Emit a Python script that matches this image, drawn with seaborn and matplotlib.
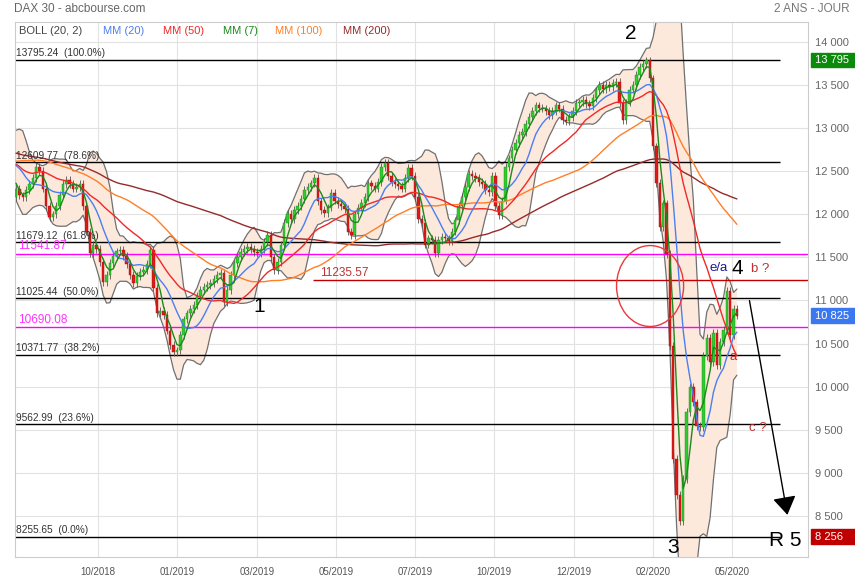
import numpy as np
import pandas as pd
import matplotlib.pyplot as plt
import seaborn as sns
from matplotlib.patches import Ellipse, Rectangle

sns.set_theme(style="white")
plt.rcParams["font.family"] = ["Liberation Sans", "DejaVu Sans"]

# closes, one value every 2 sessions, Nov 2017 -> Aug 2018 (only feeds the averages)
pre_closes = [
    13450, 13380, 13300, 13180, 13050, 13000, 13050, 13030, 13060, 13000, 13020,
    12880, 13050, 13120, 13180, 13100, 13120, 13100, 13070, 13000, 12920,
    12980, 13200, 13280, 13250, 13400, 13430, 13470, 13550, 13340, 13300, 13190,
    12800, 12390, 12260, 12110, 12340, 12400, 12460, 12480, 12490, 12420,
    12000, 12090, 12250, 12300, 12340, 12290, 12220, 12100, 11880, 11970, 12100,
    11990, 12240, 12270, 12380, 12440, 12540, 12570, 12420, 12500, 12610,
    12800, 12830, 12950, 12980, 12970, 13080, 13170, 13000, 12860, 12660, 12600,
    12720, 12780, 12830, 12900, 13110, 12850, 12730, 12580, 12280, 12350, 12310,
    12350, 12480, 12540, 12600, 12580, 12560, 12690, 12580, 12680, 12860, 12810,
    12700, 12620, 12550, 12400, 12200,
]

# closes, one value every 2 sessions, Aug 2018 -> May 2020 (drawn)
closes = [
    12300, 12220, 12200, 12280, 12350, 12420, 12550, 12500, 12300, 12100,
    11970, 12000, 12100, 12230, 12350, 12400, 12350, 12300, 12320, 12350,
    12100, 11800, 11550, 11650, 11600, 11450, 11215, 11300, 11435, 11520,
    11570, 11590, 11520, 11420, 11300, 11200, 11280, 11330, 11350, 11420,
    11590, 11150, 10850, 10880, 10830, 10650, 10480, 10400, 10420, 10600,
    10780, 10850, 10900, 10950, 11050, 11120, 11160, 11180, 11200, 11250,
    11300, 11320, 10980, 11120, 11300, 11430, 11500, 11560, 11600, 11620,
    11600, 11560, 11550, 11600, 11680, 11760, 11500, 11350, 11450, 11650,
    11900, 12010, 11950, 12050, 12100, 12180, 12280, 12320, 12360, 12420,
    12150, 12050, 12020, 12080, 12250, 12160, 12120, 12100, 12060, 11800,
    11760, 12000, 12080, 12130, 12200, 12360, 12330, 12300, 12380, 12550,
    12600, 12450, 12380, 12350, 12330, 12300, 12420, 12535, 12450, 12200,
    11950, 11900, 11650, 11720, 11700, 11550, 11700, 11740, 11720, 11690,
    11800, 11930, 12100, 12200, 12320, 12470, 12450, 12420, 12380, 12350,
    12280, 12260, 12450, 12100, 11990, 12160, 12550, 12650, 12750, 12830,
    12920, 12960, 13050, 13130, 13200, 13265, 13240, 13230, 13200, 13150,
    13200, 13265, 13230, 13100, 13080, 13130, 13200, 13290, 13300, 13325,
    13280, 13260, 13350, 13440, 13500, 13460, 13500, 13480, 13530, 13540,
    13290, 13100, 13300, 13450, 13500, 13620, 13710, 13745, 13789, 13579,
    12790, 12367, 11857, 12128, 11541, 10475, 9161, 8742, 8441, 8929,
    9701, 10000, 9816, 9544, 9525, 10356, 10565, 10280, 10626, 10250,
    10514, 10660, 11108, 10600, 10900, 10825,
]

fib_levels = [13795.24, 12609.77, 11679.12, 11025.44, 10371.77, 9562.99, 8255.65]
fib_pcts = ["100.0%", "78.6%", "61.8%", "50.0%", "38.2%", "23.6%", "0.0%"]
magenta_levels = [11541.87, 10690.08]
red_level = 11235.57
tick_bars = [24.5, 48, 71.9, 95.5, 119, 142.6, 166.4, 190, 213.5]
tick_labels = ["10/2018", "01/2019", "03/2019", "05/2019", "07/2019",
               "10/2019", "12/2019", "02/2020", "05/2020"]
price_ticks = list(range(8500, 14001, 500))
badges = [(13795, "#0b8a0b"), (10825, "#3b78f0"), (8256, "#c00000")]

# ---- indicators (2 sessions per bar, windows halved) ----
full = pd.Series(pre_closes + closes, dtype=float)
n_pre = len(pre_closes)
df = pd.DataFrame({"bar": np.arange(len(closes)), "close": closes})
df["open"] = full.shift(1).iloc[n_pre:].values
for name, w in [("ma7", 4), ("ma20", 10), ("ma50", 25), ("ma100", 50), ("ma200", 100)]:
    df[name] = full.rolling(w).mean().iloc[n_pre:].values
sd = full.rolling(10).std(ddof=0).iloc[n_pre:].values
df["boll_up"] = df["ma20"] + 2 * sd
df["boll_lo"] = df["ma20"] - 2 * sd

fig, ax = plt.subplots(figsize=(8.55, 5.8), dpi=100)
fig.subplots_adjust(left=15/855, right=808/855, bottom=23/580, top=558/580)

# Bollinger
ax.fill_between(df["bar"], df["boll_lo"], df["boll_up"], color="#fde8dc", zorder=1, lw=0)
sns.lineplot(data=df, x="bar", y="boll_up", ax=ax, color="#707070", lw=0.9, zorder=2)
sns.lineplot(data=df, x="bar", y="boll_lo", ax=ax, color="#707070", lw=0.9, zorder=2)

# horizontal levels
for lvl, pct in zip(fib_levels, fib_pcts):
    ax.hlines(lvl, -0.3, 227.9, color="black", lw=1, zorder=2)
    ax.annotate(f"{lvl:.2f}  ({pct})", xy=(-0.1, lvl), xytext=(0, 1), textcoords="offset points",
                ha="left", va="bottom", fontsize=7.3, color="#333333", zorder=6)
for lvl in magenta_levels:
    ax.axhline(lvl, color="#ff00ff", lw=1, zorder=2)
    ax.annotate(f"{lvl:.2f}", xy=(0.6, lvl), xytext=(0, 1), textcoords="offset points",
                ha="left", va="bottom", fontsize=8.5, color="#ff33ff", zorder=6)
ax.hlines(red_level, 88.6, 240, color="#c00000", lw=1, zorder=2)
ax.annotate(f"{red_level:.2f}", xy=(90.7, red_level), xytext=(0, 1), textcoords="offset points",
            ha="left", va="bottom", fontsize=8.5, color="#c03030", zorder=6)

# candles
lo = np.minimum(df["open"], df["close"])
hi = np.maximum(df["open"], df["close"])
up = df["close"] >= df["open"]
ax.vlines(df["bar"], lo - 45, hi + 45, color="#555555", lw=0.6, zorder=3)
ax.bar(df["bar"][up], (hi - lo)[up], bottom=lo[up], width=0.72, color="#2fcc2f",
       edgecolor="#1c8c1c", lw=0.3, zorder=4)
ax.bar(df["bar"][~up], (hi - lo)[~up], bottom=lo[~up], width=0.72, color="#e01818",
       edgecolor="#a01010", lw=0.3, zorder=4)

# moving averages
for col, c in [("ma200", "#962a2a"), ("ma100", "#ff7f27"), ("ma50", "#f02828"),
               ("ma20", "#4a7ff0"), ("ma7", "#1a8a1a")]:
    sns.lineplot(data=df, x="bar", y=col, ax=ax, color=c, lw=1, zorder=5)

# annotations
ax.add_patch(Ellipse((189.1, 11168), width=20, height=940, fill=False,
                     edgecolor="#e83a3a", lw=1, zorder=6))
ax.annotate("", xy=(230.2, 8478), xytext=(218.6, 11030),
            arrowprops=dict(arrowstyle="-|>,head_width=0.45,head_length=0.7",
                            color="black", lw=1, mutation_scale=16), zorder=6)
for txt, x, y, fs, c in [("2", 183.4, 14103, 15, "black"), ("1", 72.5, 10925, 15, "black"),
                         ("3", 196, 8129, 15, "black"), ("4", 215, 11377, 15, "black"),
                         ("e/a", 209.4, 11377, 9.5, "#1a1a90"), ("b ?", 221.9, 11366, 9.5, "#c03030"),
                         ("a", 213.8, 10345, 9.5, "#d02020"), ("c ?", 221.3, 9521, 9.5, "#c03030"),
                         ("R 5", 229.3, 8210, 15, "black")]:
    ax.text(x, y, txt, fontsize=fs, color=c, ha="center", va="center", zorder=7)

# legend row inside the plot
for txt, px, c in [("BOLL (20, 2)", 19, "#444444"), ("MM (20)", 103, "#4a7ff0"),
                   ("MM (50)", 163, "#f02828"), ("MM (7)", 223, "#1a8a1a"),
                   ("MM (100)", 275, "#ff7f27"), ("MM (200)", 343, "#962a2a")]:
    ax.text((px - 15) / 793, 0.983, txt, transform=ax.transAxes, fontsize=8,
            color=c, ha="left", va="center", zorder=7)

fig.text(14/855, 1 - 9/580, "DAX 30 - abcbourse.com", fontsize=8.5, color="#666666", va="center")
fig.text(850/855, 1 - 9/580, "2 ANS - JOUR", fontsize=8.5, color="#777777", va="center", ha="right")

# axes
ax.set_xlim(-0.3, 236.2)
ax.set_ylim(8020, 14235)
ax.yaxis.tick_right()
ax.set_yticks(price_ticks)
ax.set_yticklabels([f"{v:,}".replace(",", " ") for v in price_ticks])
ax.set_xticks(tick_bars)
ax.set_xticklabels(tick_labels)
ax.tick_params(axis="y", length=0, pad=5, labelsize=8, labelcolor="#666666")
ax.tick_params(axis="x", length=0, pad=7, labelsize=7, labelcolor="#555555")
ax.set_xlabel("")
ax.set_ylabel("")
ax.grid(True, color="#e2e2e2", lw=0.8)
ax.set_axisbelow(True)
for s in ax.spines.values():
    s.set_color("#cccccc")
    s.set_linewidth(0.8)

ytr = ax.get_yaxis_transform()
for val, c in badges:
    ax.add_patch(Rectangle((1.004, val - 85), 0.056, 170, transform=ytr,
                           color=c, clip_on=False, zorder=8))
    ax.text(1.009, val, f"{val:,}".replace(",", " "), transform=ytr, fontsize=8,
            color="white", ha="left", va="center", zorder=9)

plt.savefig("out.png", dpi=100)
plt.close()
